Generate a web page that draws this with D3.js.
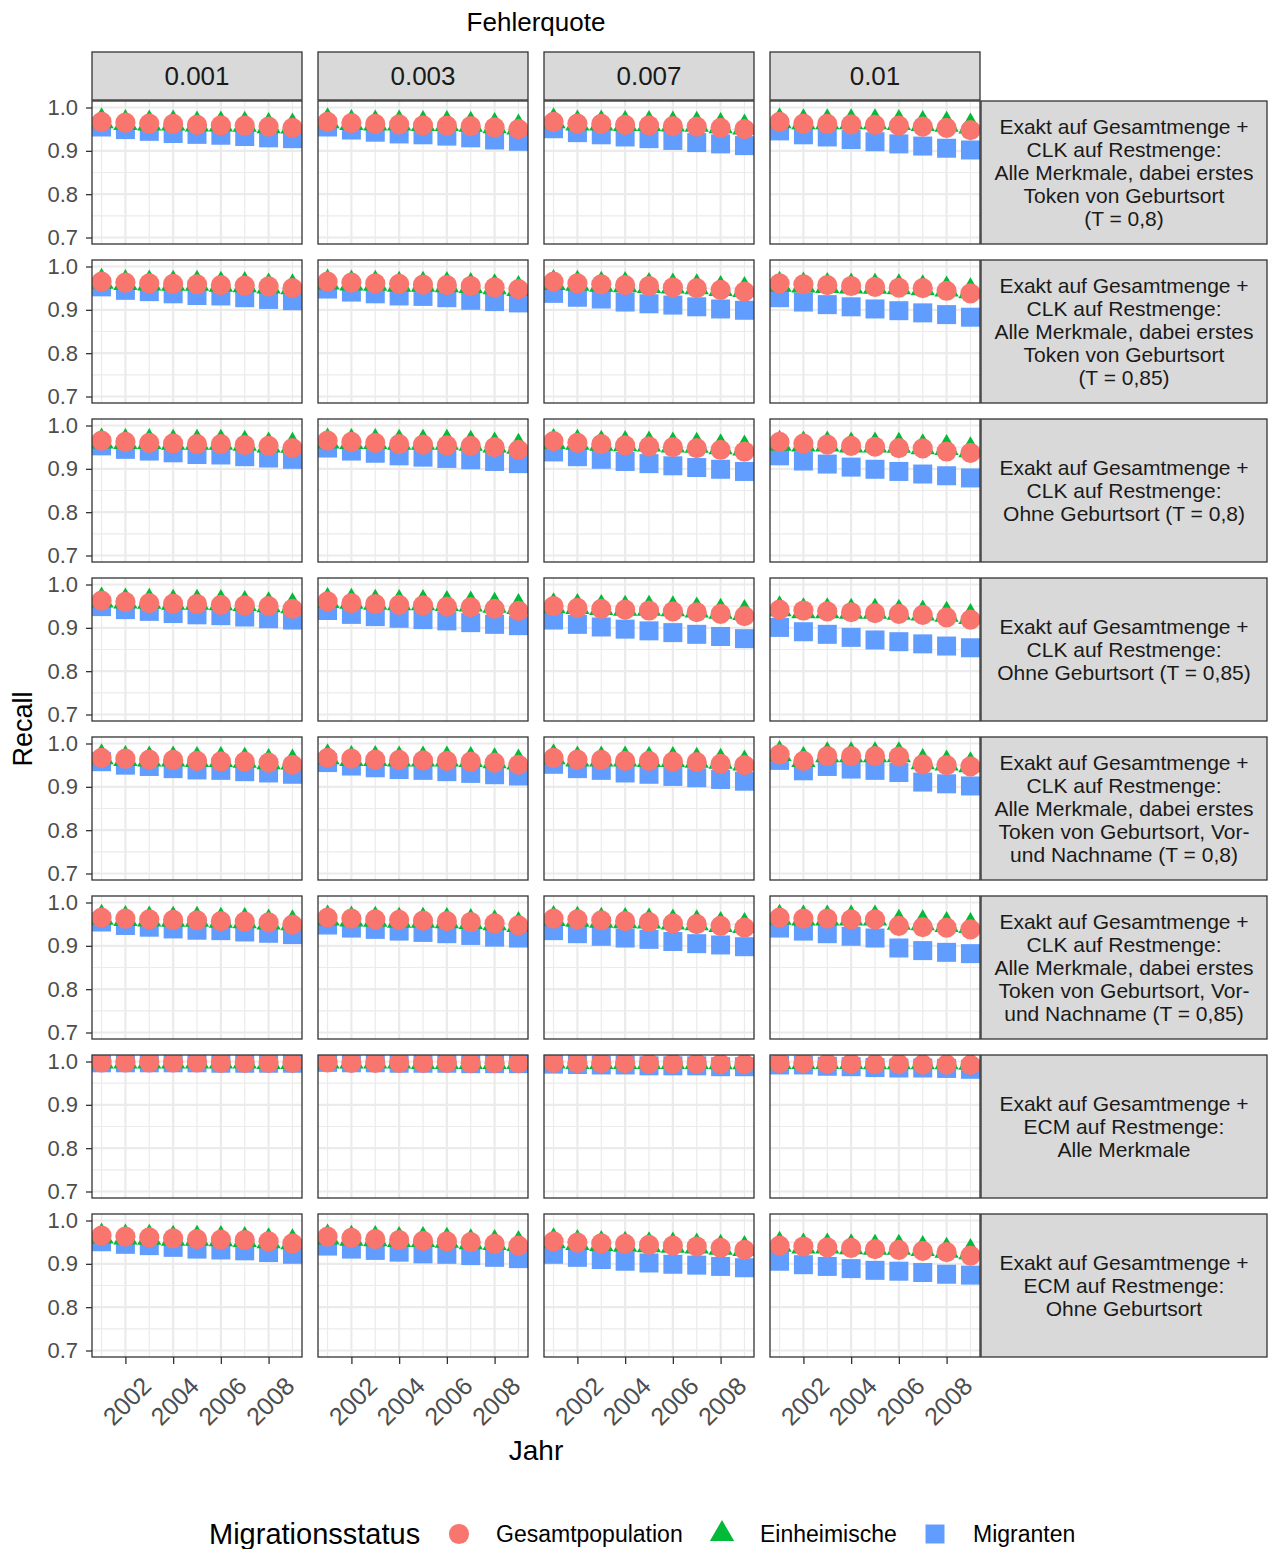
<!DOCTYPE html>
<html>
<head>
<meta charset="utf-8">
<script src="https://cdn.jsdelivr.net/npm/d3@7"></script>
<style>
  body { margin: 0; background: #fff; }
  text { font-family: "Liberation Sans", Arial, Helvetica, sans-serif; }
</style>
</head>
<body>
<div id="chart"></div>
<script>
// ---- data ----
const years = [2001, 2002, 2003, 2004, 2005, 2006, 2007, 2008, 2009];
const xTicks = [2002, 2004, 2006, 2008];
const xMinor = [2001, 2003, 2005, 2007, 2009];
const yTicks = [0.7, 0.8, 0.9, 1.0];
const yMinor = [0.75, 0.85, 0.95];

const fehlerquoten = ['0.001', '0.003', '0.007', '0.01'];

const verfahren = [
  ['Exakt auf Gesamtmenge +', 'CLK auf Restmenge:', 'Alle Merkmale, dabei erstes', 'Token von Geburtsort', '(T = 0,8)'],
  ['Exakt auf Gesamtmenge +', 'CLK auf Restmenge:', 'Alle Merkmale, dabei erstes', 'Token von Geburtsort', '(T = 0,85)'],
  ['Exakt auf Gesamtmenge +', 'CLK auf Restmenge:', 'Ohne Geburtsort (T = 0,8)'],
  ['Exakt auf Gesamtmenge +', 'CLK auf Restmenge:', 'Ohne Geburtsort (T = 0,85)'],
  ['Exakt auf Gesamtmenge +', 'CLK auf Restmenge:', 'Alle Merkmale, dabei erstes', 'Token von Geburtsort, Vor-', 'und Nachname (T = 0,8)'],
  ['Exakt auf Gesamtmenge +', 'CLK auf Restmenge:', 'Alle Merkmale, dabei erstes', 'Token von Geburtsort, Vor-', 'und Nachname (T = 0,85)'],
  ['Exakt auf Gesamtmenge +', 'ECM auf Restmenge:', 'Alle Merkmale'],
  ['Exakt auf Gesamtmenge +', 'ECM auf Restmenge:', 'Ohne Geburtsort']
];

const gruppen = ['Gesamtpopulation', 'Einheimische', 'Migranten'];

// recall per verfahren (row) and fehlerquote (column), years 2001..2009
const gesamtpopulation = [
  [[0.967,0.965,0.963,0.962,0.960,0.959,0.958,0.956,0.953],
   [0.967,0.964,0.962,0.961,0.959,0.958,0.957,0.954,0.950],
   [0.967,0.963,0.962,0.960,0.959,0.957,0.956,0.953,0.950],
   [0.967,0.963,0.962,0.961,0.960,0.958,0.956,0.953,0.948]],
  [[0.965,0.963,0.961,0.960,0.959,0.957,0.956,0.954,0.950],
   [0.965,0.963,0.961,0.960,0.958,0.957,0.955,0.952,0.948],
   [0.965,0.961,0.959,0.957,0.955,0.952,0.950,0.946,0.942],
   [0.961,0.959,0.957,0.955,0.953,0.951,0.950,0.944,0.938]],
  [[0.965,0.962,0.960,0.959,0.957,0.957,0.955,0.953,0.948],
   [0.965,0.962,0.960,0.957,0.956,0.954,0.953,0.950,0.944],
   [0.964,0.960,0.957,0.954,0.952,0.950,0.948,0.944,0.940],
   [0.962,0.958,0.956,0.953,0.951,0.948,0.947,0.940,0.937]],
  [[0.963,0.960,0.957,0.956,0.955,0.953,0.952,0.950,0.944],
   [0.961,0.957,0.955,0.953,0.952,0.949,0.948,0.944,0.939],
   [0.950,0.946,0.944,0.942,0.940,0.938,0.936,0.932,0.927],
   [0.942,0.940,0.938,0.936,0.934,0.932,0.930,0.924,0.919]],
  [[0.967,0.965,0.963,0.962,0.960,0.959,0.958,0.956,0.951],
   [0.967,0.965,0.963,0.962,0.961,0.960,0.958,0.956,0.951],
   [0.967,0.963,0.962,0.960,0.960,0.958,0.957,0.953,0.950],
   [0.975,0.960,0.971,0.971,0.971,0.970,0.952,0.950,0.947]],
  [[0.965,0.963,0.961,0.960,0.959,0.957,0.956,0.954,0.949],
   [0.965,0.963,0.961,0.960,0.958,0.957,0.955,0.952,0.947],
   [0.963,0.961,0.959,0.957,0.955,0.952,0.950,0.946,0.942],
   [0.965,0.963,0.963,0.961,0.961,0.946,0.943,0.942,0.938]],
  [[0.998,0.998,0.998,0.998,0.998,0.997,0.997,0.997,0.997],
   [0.998,0.997,0.997,0.997,0.997,0.997,0.996,0.996,0.996],
   [0.997,0.996,0.996,0.996,0.995,0.995,0.995,0.994,0.994],
   [0.996,0.996,0.995,0.995,0.994,0.994,0.993,0.993,0.992]],
  [[0.965,0.963,0.961,0.959,0.957,0.956,0.955,0.952,0.947],
   [0.963,0.960,0.957,0.955,0.953,0.952,0.950,0.946,0.942],
   [0.952,0.949,0.947,0.946,0.944,0.942,0.940,0.937,0.932],
   [0.942,0.940,0.938,0.937,0.934,0.932,0.930,0.927,0.919]]
];

const einheimische = [
  [[0.968,0.964,0.963,0.963,0.961,0.961,0.960,0.957,0.956],
   [0.968,0.964,0.963,0.963,0.962,0.962,0.960,0.957,0.954],
   [0.968,0.963,0.963,0.962,0.962,0.961,0.960,0.957,0.954],
   [0.968,0.966,0.966,0.966,0.966,0.964,0.962,0.960,0.956]],
  [[0.965,0.962,0.961,0.960,0.960,0.958,0.957,0.954,0.952],
   [0.963,0.961,0.960,0.958,0.958,0.957,0.955,0.952,0.948],
   [0.962,0.960,0.958,0.957,0.955,0.954,0.952,0.948,0.946],
   [0.958,0.956,0.955,0.954,0.953,0.952,0.950,0.947,0.943]],
  [[0.963,0.962,0.962,0.960,0.960,0.960,0.958,0.954,0.953],
   [0.963,0.962,0.962,0.960,0.960,0.960,0.958,0.954,0.951],
   [0.962,0.960,0.958,0.957,0.956,0.954,0.953,0.950,0.947],
   [0.958,0.956,0.956,0.954,0.954,0.953,0.950,0.948,0.943]],
  [[0.963,0.961,0.960,0.958,0.958,0.957,0.955,0.952,0.950],
   [0.962,0.960,0.958,0.957,0.957,0.955,0.954,0.951,0.948],
   [0.950,0.948,0.946,0.944,0.944,0.943,0.940,0.937,0.934],
   [0.943,0.938,0.938,0.937,0.937,0.935,0.933,0.930,0.925]],
  [[0.968,0.964,0.963,0.963,0.962,0.962,0.960,0.957,0.956],
   [0.968,0.964,0.964,0.963,0.963,0.963,0.962,0.959,0.956],
   [0.968,0.963,0.963,0.963,0.962,0.962,0.960,0.958,0.954],
   [0.976,0.962,0.973,0.973,0.973,0.973,0.957,0.954,0.950]],
  [[0.965,0.962,0.961,0.960,0.960,0.958,0.957,0.954,0.952],
   [0.963,0.961,0.960,0.958,0.958,0.957,0.955,0.952,0.948],
   [0.962,0.960,0.958,0.957,0.956,0.954,0.952,0.948,0.946],
   [0.965,0.963,0.963,0.963,0.963,0.953,0.952,0.948,0.946]],
  [[1.000,1.000,1.000,1.000,1.000,1.000,1.000,0.999,0.999],
   [1.000,1.000,1.000,1.000,0.999,0.999,0.999,0.999,0.999],
   [1.000,0.999,0.999,0.999,0.999,0.999,0.999,0.998,0.998],
   [0.999,0.999,0.999,0.999,0.998,0.998,0.998,0.998,0.997]],
  [[0.963,0.961,0.960,0.958,0.958,0.957,0.955,0.952,0.950],
   [0.961,0.958,0.957,0.955,0.955,0.953,0.950,0.948,0.946],
   [0.952,0.948,0.946,0.944,0.943,0.942,0.940,0.937,0.934],
   [0.944,0.940,0.940,0.938,0.937,0.937,0.934,0.930,0.927]]
];

const migranten = [
  [[0.955,0.949,0.945,0.940,0.938,0.936,0.933,0.930,0.928],
   [0.955,0.948,0.943,0.939,0.937,0.934,0.930,0.925,0.922],
   [0.951,0.942,0.937,0.932,0.928,0.924,0.919,0.916,0.912],
   [0.946,0.937,0.932,0.926,0.921,0.916,0.911,0.906,0.902]],
  [[0.953,0.945,0.942,0.937,0.933,0.932,0.928,0.924,0.921],
   [0.948,0.941,0.937,0.932,0.931,0.928,0.922,0.919,0.916],
   [0.938,0.929,0.925,0.918,0.914,0.911,0.907,0.902,0.899],
   [0.928,0.918,0.912,0.907,0.902,0.898,0.893,0.889,0.883]],
  [[0.953,0.945,0.941,0.937,0.933,0.932,0.928,0.925,0.922],
   [0.948,0.941,0.936,0.930,0.927,0.924,0.921,0.917,0.912],
   [0.939,0.928,0.922,0.917,0.912,0.907,0.903,0.899,0.894],
   [0.930,0.918,0.911,0.904,0.899,0.894,0.888,0.884,0.879]],
  [[0.949,0.942,0.938,0.933,0.930,0.928,0.925,0.921,0.918],
   [0.940,0.931,0.926,0.922,0.919,0.916,0.912,0.908,0.905],
   [0.918,0.908,0.902,0.897,0.893,0.889,0.885,0.880,0.875],
   [0.901,0.891,0.885,0.878,0.872,0.868,0.863,0.858,0.854]],
  [[0.958,0.950,0.947,0.942,0.939,0.938,0.935,0.932,0.929],
   [0.956,0.948,0.944,0.940,0.938,0.935,0.931,0.928,0.925],
   [0.952,0.942,0.938,0.932,0.929,0.924,0.921,0.917,0.913],
   [0.961,0.937,0.947,0.941,0.938,0.933,0.911,0.907,0.902]],
  [[0.955,0.947,0.943,0.939,0.936,0.935,0.932,0.929,0.926],
   [0.948,0.941,0.938,0.934,0.931,0.928,0.924,0.920,0.918],
   [0.935,0.928,0.922,0.918,0.915,0.910,0.905,0.902,0.898],
   [0.941,0.934,0.928,0.922,0.918,0.895,0.889,0.885,0.882]],
  [[0.997,0.997,0.997,0.997,0.997,0.996,0.996,0.996,0.996],
   [0.998,0.997,0.997,0.996,0.996,0.996,0.995,0.995,0.995],
   [0.994,0.993,0.992,0.992,0.990,0.990,0.990,0.988,0.988],
   [0.992,0.992,0.989,0.988,0.986,0.985,0.985,0.984,0.982]],
  [[0.951,0.945,0.942,0.938,0.934,0.932,0.930,0.926,0.922],
   [0.941,0.934,0.931,0.927,0.923,0.922,0.919,0.915,0.912],
   [0.922,0.915,0.910,0.906,0.902,0.899,0.897,0.894,0.891],
   [0.906,0.898,0.894,0.889,0.885,0.883,0.880,0.876,0.874]]
];

// ---- layout ----
const width = 1271, height = 1549;
const panelLeft = 92, panelTop = 101;
const panelW = 210, panelH = 143, gap = 16;
const stripH = 48, stripW = 286;
const nCols = fehlerquoten.length, nRows = verfahren.length;
const panelsRight = panelLeft + nCols * panelW + (nCols - 1) * gap;
const panelsBottom = panelTop + nRows * panelH + (nRows - 1) * gap;

const colors = ['#F8766D', '#00BA38', '#619CFF'];
const shapes = [d3.symbolCircle, d3.symbolTriangle, d3.symbolSquare];
const sizes = [320, 255, 361];
const series = [gesamtpopulation, einheimische, migranten];
const drawOrder = [2, 1, 0];

const svg = d3.select('#chart').append('svg')
  .attr('width', width)
  .attr('height', height);

svg.append('rect').attr('width', width).attr('height', height).attr('fill', '#fff');

const x = d3.scaleLinear().domain([2000.6, 2009.4]).range([0, panelW]);
const y = d3.scaleLinear().domain([0.685, 1.015]).range([panelH, 0]);

const defs = svg.append('defs');
defs.append('clipPath').attr('id', 'panel-clip')
  .append('rect').attr('width', panelW).attr('height', panelH);

// top strips
fehlerquoten.forEach((fq, c) => {
  const sx = panelLeft + c * (panelW + gap);
  svg.append('rect')
    .attr('x', sx).attr('y', panelTop - stripH - 1)
    .attr('width', panelW).attr('height', stripH)
    .attr('fill', '#D9D9D9').attr('stroke', '#333').attr('stroke-width', 1.3);
  svg.append('text')
    .attr('x', sx + panelW / 2).attr('y', panelTop - stripH / 2 - 1)
    .attr('text-anchor', 'middle').attr('dominant-baseline', 'central')
    .attr('font-size', 26).attr('fill', '#1A1A1A')
    .text(fq);
});

verfahren.forEach((lines, r) => {
  const py = panelTop + r * (panelH + gap);

  // right strip
  svg.append('rect')
    .attr('x', panelsRight + 1).attr('y', py)
    .attr('width', stripW).attr('height', panelH)
    .attr('fill', '#D9D9D9').attr('stroke', '#333').attr('stroke-width', 1.3);
  const lh = 23;
  const t = svg.append('text')
    .attr('text-anchor', 'middle')
    .attr('font-size', 21).attr('fill', '#1A1A1A');
  lines.forEach((l, i) => {
    t.append('tspan')
      .attr('x', panelsRight + 1 + stripW / 2)
      .attr('y', py + panelH / 2 + (i - (lines.length - 1) / 2) * lh + 7)
      .text(l);
  });

  fehlerquoten.forEach((fq, c) => {
    const px = panelLeft + c * (panelW + gap);
    const g = svg.append('g').attr('transform', `translate(${px},${py})`);

    g.append('rect').attr('width', panelW).attr('height', panelH).attr('fill', '#fff');

    // grid
    g.selectAll('.xminor').data(xMinor).enter().append('line')
      .attr('x1', d => x(d)).attr('x2', d => x(d)).attr('y1', 0).attr('y2', panelH)
      .attr('stroke', '#EBEBEB').attr('stroke-width', 1.2);
    g.selectAll('.yminor').data(yMinor).enter().append('line')
      .attr('y1', d => y(d)).attr('y2', d => y(d)).attr('x1', 0).attr('x2', panelW)
      .attr('stroke', '#EBEBEB').attr('stroke-width', 1.2);
    g.selectAll('.xmajor').data(xTicks).enter().append('line')
      .attr('x1', d => x(d)).attr('x2', d => x(d)).attr('y1', 0).attr('y2', panelH)
      .attr('stroke', '#EBEBEB').attr('stroke-width', 2.2);
    g.selectAll('.ymajor').data(yTicks).enter().append('line')
      .attr('y1', d => y(d)).attr('y2', d => y(d)).attr('x1', 0).attr('x2', panelW)
      .attr('stroke', '#EBEBEB').attr('stroke-width', 2.2);

    // points
    const marks = g.append('g').attr('clip-path', 'url(#panel-clip)');
    drawOrder.forEach(s => {
      const vals = series[s][r][c];
      marks.selectAll('.s' + s).data(years).enter().append('path')
        .attr('d', d3.symbol().type(shapes[s]).size(sizes[s]))
        .attr('transform', (d, i) => `translate(${x(d)},${y(vals[i])})`)
        .attr('fill', colors[s]);
    });

    // border
    g.append('rect').attr('width', panelW).attr('height', panelH)
      .attr('fill', 'none').attr('stroke', '#333').attr('stroke-width', 1.3);

    // y axis on first column
    if (c === 0) {
      const ya = g.append('g')
        .call(d3.axisLeft(y).tickValues(yTicks).tickFormat(d3.format('.1f')).tickSize(6).tickPadding(8));
      ya.select('.domain').remove();
      ya.selectAll('line').attr('stroke', '#333').attr('stroke-width', 1.3);
      ya.selectAll('text').attr('font-size', 22).attr('fill', '#4D4D4D')
        .attr('font-family', '"Liberation Sans", Arial, sans-serif');
    }

    // x axis on last row
    if (r === nRows - 1) {
      const xa = g.append('g').attr('transform', `translate(0,${panelH})`)
        .call(d3.axisBottom(x).tickValues(xTicks).tickFormat(d3.format('d')).tickSize(7));
      xa.select('.domain').remove();
      xa.selectAll('line').attr('stroke', '#333').attr('stroke-width', 1.3);
      xa.selectAll('text')
        .attr('font-size', 25).attr('fill', '#4D4D4D')
        .attr('font-family', '"Liberation Sans", Arial, sans-serif')
        .attr('text-anchor', 'middle').attr('dy', null).attr('y', null)
        .attr('dominant-baseline', 'central')
        .attr('transform', 'translate(1,44) rotate(-45)');
    }
  });
});

// titles
svg.append('text')
  .attr('x', (panelLeft + panelsRight) / 2).attr('y', 31)
  .attr('text-anchor', 'middle').attr('font-size', 26).attr('fill', '#000')
  .text('Fehlerquote');

svg.append('text')
  .attr('x', (panelLeft + panelsRight) / 2).attr('y', 1460)
  .attr('text-anchor', 'middle').attr('font-size', 28).attr('fill', '#000')
  .text('Jahr');

svg.append('text')
  .attr('transform', `translate(32,${(panelTop + panelsBottom) / 2}) rotate(-90)`)
  .attr('text-anchor', 'middle').attr('font-size', 27).attr('fill', '#000')
  .text('Recall');

// legend
const ly = 1534;
svg.append('text')
  .attr('x', 209).attr('y', ly + 10)
  .attr('font-size', 29).attr('fill', '#000')
  .text('Migrationsstatus');

const legendKeyX = [459, 722, 935];
const legendTextX = [496, 760, 973];
gruppen.forEach((name, i) => {
  svg.append('path')
    .attr('d', d3.symbol().type(shapes[i]).size(sizes[i]))
    .attr('transform', `translate(${legendKeyX[i]},${ly})`)
    .attr('fill', colors[i]);
  svg.append('text')
    .attr('x', legendTextX[i]).attr('y', ly + 8)
    .attr('font-size', 23).attr('fill', '#000')
    .text(name);
});
</script>
</body>
</html>
